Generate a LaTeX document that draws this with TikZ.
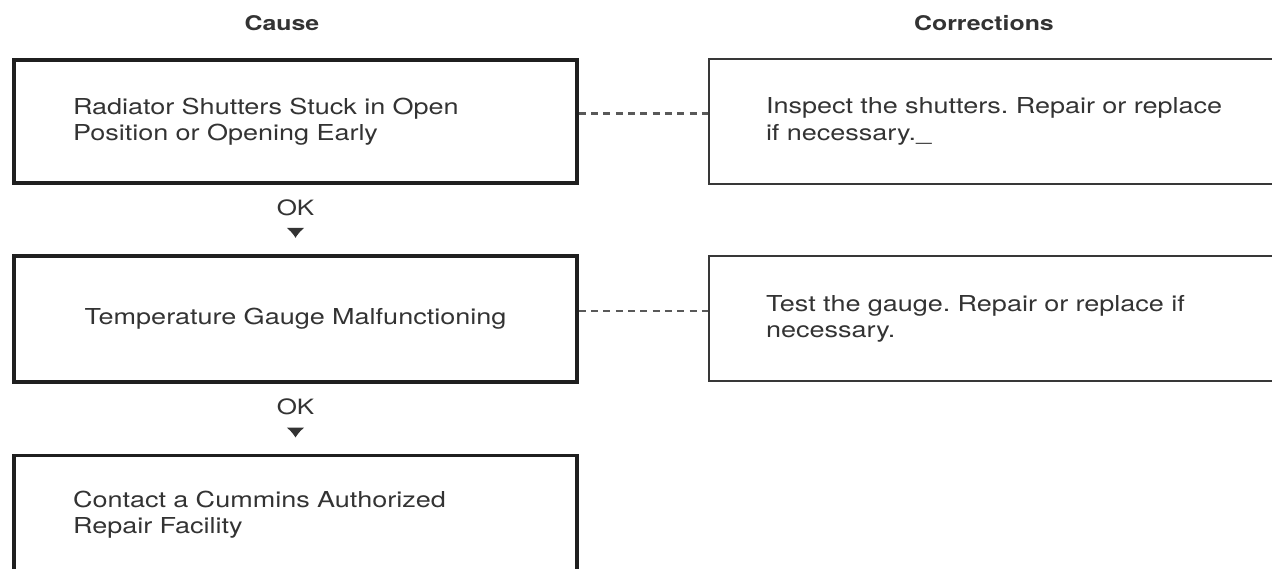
\documentclass[tikz,border=0pt]{standalone}
\usepackage{fontspec}
\setmainfont{TeX Gyre Heros}[FakeStretch=1.23]
\usetikzlibrary{arrows.meta, positioning}
\definecolor{ink}{HTML}{333333}
\frenchspacing
\tikzset{
    causebox/.style={draw=black!88, line width=2.1pt, minimum width=11.26cm, minimum height=2.46cm, text width=8.9cm, inner xsep=1.18cm, align=left, text=ink, font=\fontsize{12.5}{15}\selectfont},
    fixbox/.style={draw=black!78, line width=1.3pt, minimum height=2.5cm, text width=9.8cm, inner xsep=1.14cm, align=left, text=ink, font=\fontsize{12.5}{15}\selectfont},
    head/.style={text=ink, font=\fontsize{11.5}{14}\selectfont\bfseries},
    oklabel/.style={text=ink, inner sep=1pt, font=\fontsize{12}{14}\selectfont},
    okarrow/.style={-{Latex[length=0.2cm, width=0.36cm]}, line width=0.8pt, ink},
    dashlink/.style={dashed, dash pattern=on 4pt off 3pt, line width=1.2pt, black!65}
}

\begin{document}
\begin{tikzpicture}[node distance=1cm]
        \useasboundingbox (0,0) rectangle (25.44,-11.36);

        % Cause column
        \node [causebox] (c1) at (5.91,-2.43) {Radiator Shutters Stuck in Open\\Position or Opening Early};
        \node [causebox, align=center, below=1.38cm of c1, minimum height=2.52cm] (c2) {Temperature Gauge Malfunctioning};
        \node [causebox, below=1.4cm of c2, minimum height=2.36cm] (c3) {Contact a Cummins Authorized\\Repair Facility};

        % Corrections column
        \node [fixbox, right=2.58cm of c1] (r1) {Inspect the shutters. Repair or replace\\if necessary.\_};
        \node [fixbox, right=2.58cm of c2] (r2) {Test the gauge. Repair or replace if\\necessary.};

        % Headings
        \node [head, above=0.42cm of c1, xshift=-0.27cm] (hc) {Cause};
        \node [head, above=0.42cm of r1, xshift=-0.54cm] (hr) {Corrections};

        % OK steps
        \node [oklabel, below=0.26cm of c1] (ok1) {OK};
        \node [oklabel, below=0.26cm of c2] (ok2) {OK};
        \draw [okarrow, shorten <=0.24cm, shorten >=0.32cm] (ok1.south) -- (c2.north);
        \draw [okarrow, shorten <=0.24cm, shorten >=0.32cm] (ok2.south) -- (c3.north);

        % links to corrections
        \draw [dashlink] ([yshift=0.16cm]c1.east) -- ([yshift=0.16cm]c1.east -| r1.west);
        \draw [dashlink] ([yshift=0.16cm]c2.east) -- ([yshift=0.16cm]c2.east -| r2.west);
    \end{tikzpicture}
\end{document}
